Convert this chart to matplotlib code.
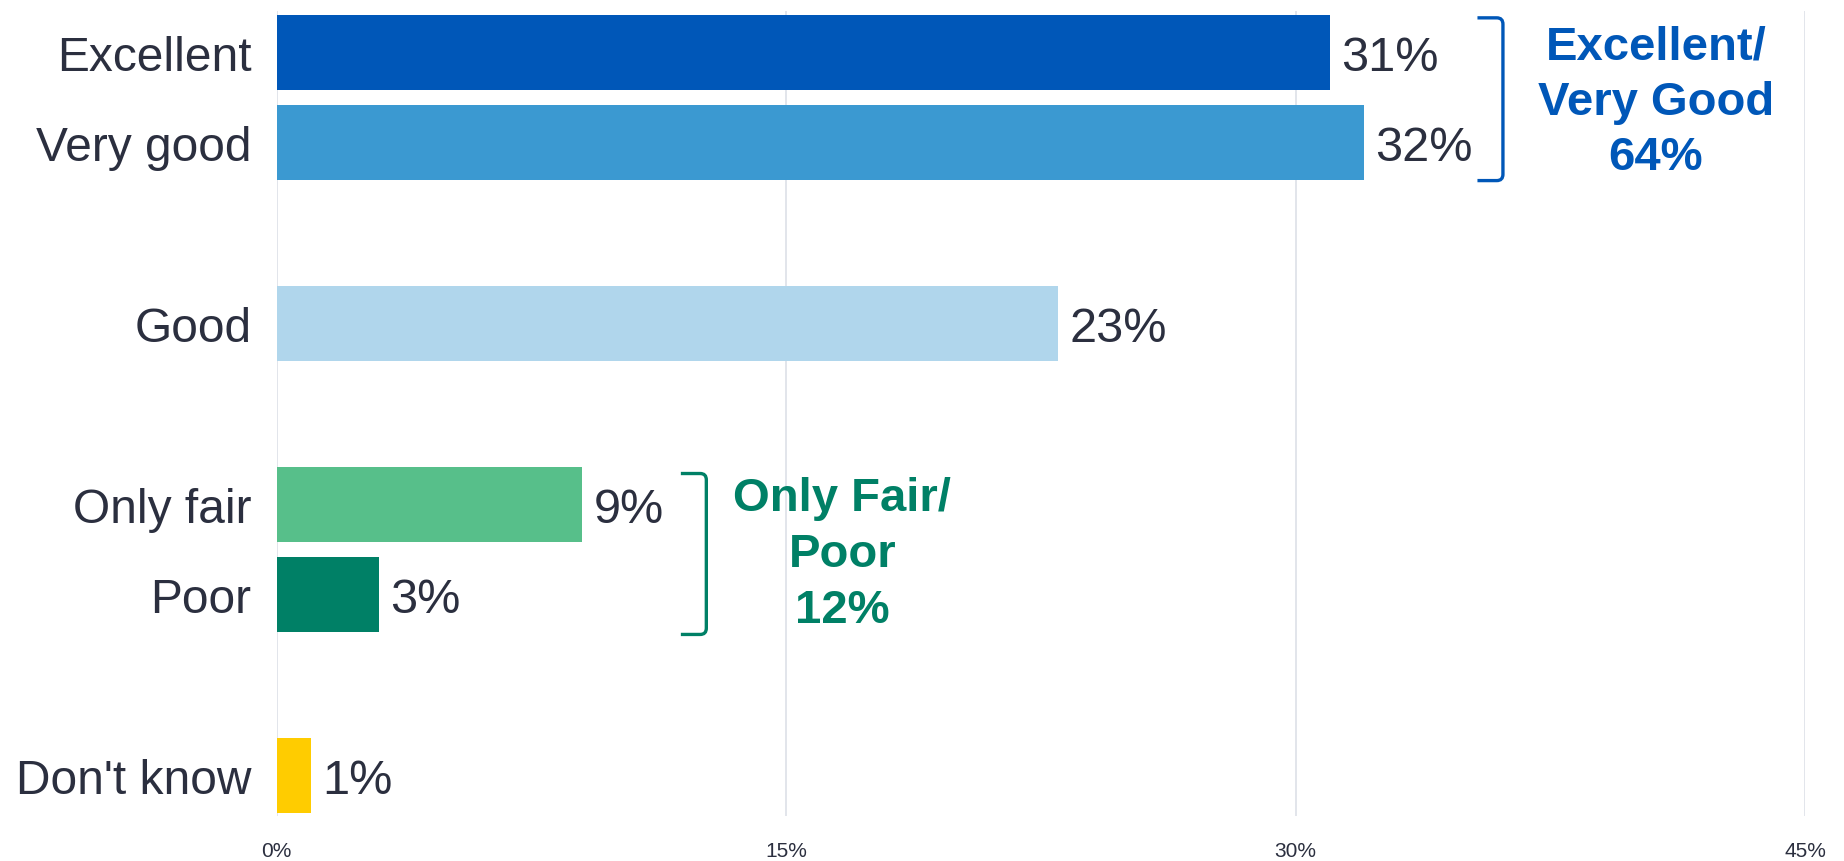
import matplotlib.pyplot as plt
from matplotlib.path import Path
from matplotlib.patches import PathPatch

# data
categories = ["Excellent", "Very good", "Good", "Only fair", "Poor", "Don't know"]
values = [31, 32, 23, 9, 3, 1]
positions = [0, 1, 3, 5, 6, 8]
colors = ["#0057B8", "#3B99D1", "#B0D6EC", "#57BF8A", "#008066", "#FFCC00"]
xticks = [0, 15, 30, 45]
xtick_labels = ["0%", "15%", "30%", "45%"]

groups = ["Excellent/\nVery Good\n64%", "Only Fair/\nPoor\n12%"]
group_colors = ["#0057B8", "#008066"]
group_spans = [(-0.38, 1.42), (4.66, 6.44)]
group_bracket_x = [35.35, 11.9]
group_text_pos = [(40.6, 0.55), (16.65, 5.55)]

text_dark = "#2B2F3F"
plt.rcParams['font.family'] = ['Liberation Sans', 'DejaVu Sans']

fig = plt.figure(figsize=(18.44, 8.62), dpi=100)
ax = fig.add_axes([0.150, 0.052, 0.829, 0.934])

ax.barh(positions, values, height=0.83, color=colors, zorder=2)
for p, v in zip(positions, values):
    ax.text(v + 0.35, p, f"{v}%", va='center_baseline', ha='left', fontsize=35, color=text_dark)

ax.set_xlim(0, 45)
ax.set_ylim(8.45, -0.455)
ax.set_yticks(positions)
ax.set_yticklabels(categories, fontsize=34.5, color=text_dark)
ax.tick_params(axis='y', length=0, pad=18)
ax.set_xticks(xticks)
ax.set_xticklabels(xtick_labels, fontsize=15, color=text_dark)
ax.tick_params(axis='x', length=0, pad=18)
ax.grid(axis='x', color='#DDE0E8', linewidth=1.2, zorder=0)
for s in ax.spines.values():
    s.set_visible(False)

# brackets
dx = 0.75
rx, ry = 0.18, 0.07
for (y0, y1), xb, c in zip(group_spans, group_bracket_x, group_colors):
    xr = xb + dx
    verts = [(xb, y0), (xr - rx, y0), (xr, y0), (xr, y0 + ry),
             (xr, y1 - ry), (xr, y1), (xr - rx, y1), (xb, y1)]
    codes = [Path.MOVETO, Path.LINETO, Path.CURVE3, Path.CURVE3,
             Path.LINETO, Path.CURVE3, Path.CURVE3, Path.LINETO]
    ax.add_patch(PathPatch(Path(verts, codes), fill=False, edgecolor=c,
                           linewidth=2.4, zorder=3, clip_on=False))

for txt, c, (tx, ty) in zip(groups, group_colors, group_text_pos):
    ax.text(tx, ty, txt, ha='center', va='center', fontsize=34,
            fontweight='bold', color=c, linespacing=1.34)

fig.savefig("out.png", dpi=100)
